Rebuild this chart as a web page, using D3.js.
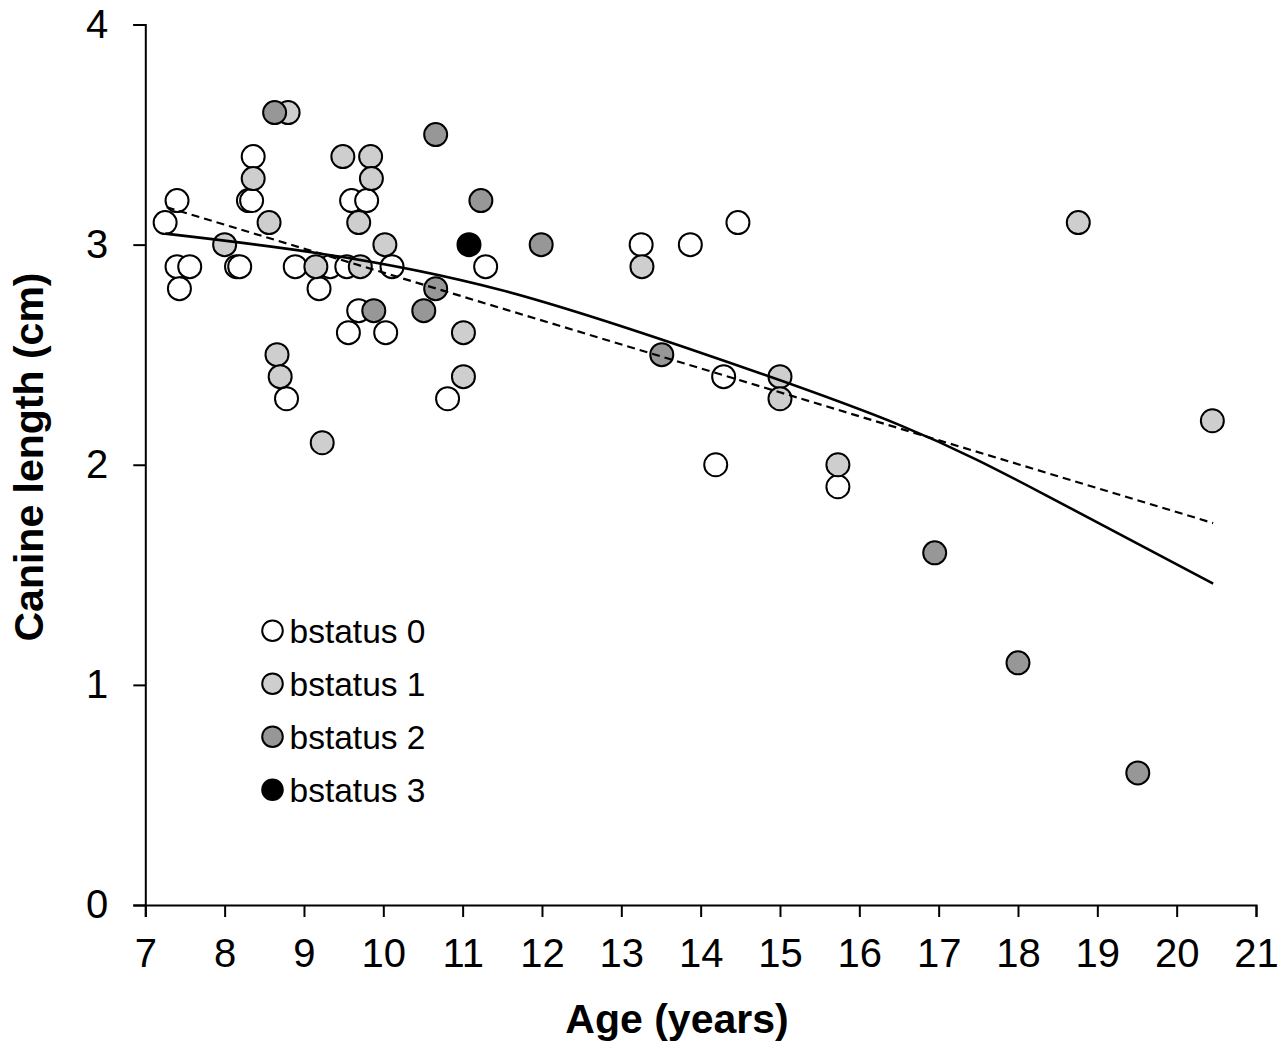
<!DOCTYPE html>
<html>
<head>
<meta charset="utf-8">
<script src="https://d3js.org/d3.v7.min.js"></script>
<style>
body { margin: 0; background: #fff; }
text { font-family: "Liberation Sans", Arial, sans-serif; fill: #000; }
.axis path, .axis line { stroke: #000; stroke-width: 2; fill: none; }
.axis text { font-size: 40px; }
</style>
</head>
<body>
<svg width="1280" height="1042"></svg>
<script>

// points per bstatus group: [age, canine length]
var bstatus0 = [
  [7.25,3.1],[7.40,3.2],[7.40,2.9],[7.56,2.9],[7.43,2.8],
  [8.36,3.4],[8.30,3.2],[8.34,3.2],[8.15,2.9],[8.19,2.9],
  [8.89,2.9],[9.19,2.8],[9.33,2.9],[9.54,2.9],[10.11,2.9],
  [8.78,2.3],[9.60,3.2],[9.79,3.2],[9.69,2.7],[9.56,2.6],
  [10.03,2.6],[10.81,2.3],[11.29,2.9],[13.25,3.0],[13.87,3.0],
  [14.47,3.1],[14.29,2.4],[14.19,2.0],[15.73,1.9]
];
var bstatus1 = [
  [8.80,3.6],[8.36,3.3],[8.56,3.1],[8.00,3.0],[9.15,2.9],
  [9.71,2.9],[8.66,2.5],[8.70,2.4],[9.23,2.1],[9.49,3.4],
  [9.84,3.4],[9.85,3.3],[9.69,3.1],[10.02,3.0],[11.01,2.6],
  [11.01,2.4],[13.26,2.9],[15.00,2.4],[15.00,2.3],[15.73,2.0],
  [18.76,3.1],[20.45,2.2]
];
var bstatus2 = [
  [8.63,3.6],[10.66,3.5],[11.23,3.2],[9.88,2.7],[10.66,2.8],
  [10.51,2.7],[11.99,3.0],[13.51,2.5],[16.95,1.6],[18.00,1.1],
  [19.51,0.6]
];
var bstatus3 = [[11.08,3.0]];

var groups = ["bstatus 0", "bstatus 1", "bstatus 2", "bstatus 3"];
var fills = ["#ffffff", "#cecece", "#979797", "#000000"];

// trend lines
var curveFit = [[7.25,3.05],[9.20,2.96],[11.47,2.795],[13.99,2.51],[16.51,2.18],[18.36,1.86],[20.46,1.46]];
var linearFit = [[7.27,3.17],[20.46,1.735]];

var xTicks = d3.range(7, 22);
var yTicks = [0, 1, 2, 3, 4];

var svg = d3.select("svg");

var x = d3.scaleLinear().domain([7, 21]).range([145.3, 1256]);
var y = d3.scaleLinear().domain([0, 4]).range([905, 24.5]);

svg.append("g")
    .attr("class", "axis")
    .attr("transform", "translate(0,905)")
    .call(d3.axisBottom(x).tickValues(xTicks).tickFormat(d3.format("d"))
      .tickSize(12).tickPadding(22));

svg.append("g")
    .attr("class", "axis")
    .attr("transform", "translate(145.3,0)")
    .call(d3.axisLeft(y).tickValues(yTicks).tickFormat(d3.format("d"))
      .tickSize(12).tickPadding(25));

var sets = [bstatus0, bstatus1, bstatus2, bstatus3];

sets.forEach(function(pts, i) {
  svg.append("g")
    .selectAll("circle")
    .data(pts)
    .enter().append("circle")
    .attr("cx", function(d) { return x(d[0]); })
    .attr("cy", function(d) { return y(d[1]); })
    .attr("r", 11.5)
    .attr("fill", fills[i])
    .attr("stroke", "#000")
    .attr("stroke-width", 2);
});

var line = d3.line()
    .x(function(d) { return x(d[0]); })
    .y(function(d) { return y(d[1]); });

svg.append("path")
    .datum(linearFit)
    .attr("d", line)
    .attr("fill", "none")
    .attr("stroke", "#000")
    .attr("stroke-width", 2.2)
    .attr("stroke-dasharray", "8,5");

svg.append("path")
    .datum(curveFit)
    .attr("d", line.curve(d3.curveNatural))
    .attr("fill", "none")
    .attr("stroke", "#000")
    .attr("stroke-width", 2.6);

// legend
var legend = svg.append("g")
  .selectAll("g")
  .data(groups)
  .enter().append("g")
  .attr("transform", function(d, i) { return "translate(272.5," + (630.7 + i * 53) + ")"; });

legend.append("circle")
  .attr("r", 10.3)
  .attr("fill", function(d, i) { return fills[i]; })
  .attr("stroke", "#000")
  .attr("stroke-width", 2);

legend.append("text")
  .attr("x", 17)
  .attr("y", 12)
  .style("font-size", "33.5px")
  .text(function(d) { return d; });

// axis titles
svg.append("text")
  .attr("x", 677)
  .attr("y", 1033)
  .attr("text-anchor", "middle")
  .style("font-size", "41px")
  .style("font-weight", "bold")
  .text("Age (years)");

svg.append("text")
  .attr("transform", "translate(43,457) rotate(-90)")
  .attr("text-anchor", "middle")
  .style("font-size", "41px")
  .style("font-weight", "bold")
  .text("Canine length (cm)");

</script>
</body>
</html>
